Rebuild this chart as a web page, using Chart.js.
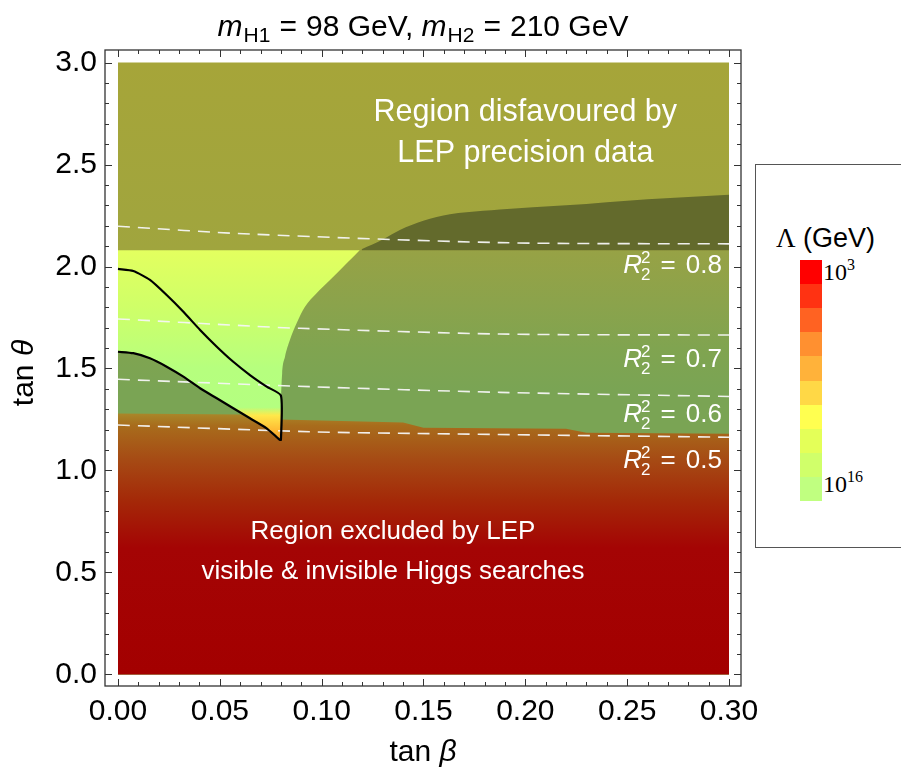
<!DOCTYPE html>
<html>
<head>
<meta charset="utf-8">
<script src="https://cdn.jsdelivr.net/npm/chart.js@4.4.0/dist/chart.umd.min.js"></script>
<style>
  html, body { margin: 0; padding: 0; background: #fff; }
  #wrap { position: relative; width: 901px; height: 774px; overflow: hidden; }
  #plot { position: absolute; left: 0; top: 0; }
  #legend { position: absolute; left: 755px; top: 164px; width: 170px; height: 384px;
            border: 1px solid #555; box-sizing: border-box; background: #fff; }
  #legend .ttl { position: absolute; left: 20px; top: 58px; font: 27px "Liberation Sans", Arial, sans-serif; white-space: nowrap; }
  #legend .ttl .lam { font-family: "Liberation Serif", "Times New Roman", serif; font-size: 27px; }
  #legend .band { position: absolute; left: 44px; width: 22px; }
  #legend .lbl { position: absolute; left: 67px; font: 24px "Liberation Serif", "Times New Roman", serif; white-space: nowrap; }
  #legend .lbl sup { font-size: 16px; vertical-align: 10px; line-height: 0; }
</style>
</head>
<body>
<div id="wrap">
  <canvas id="plot" width="901" height="774"></canvas>
  <div id="legend"></div>
</div>
<script>
// -------- Data --------
const xMajor = [0, 0.05, 0.10, 0.15, 0.20, 0.25, 0.30];
const yMajor = [0, 0.5, 1.0, 1.5, 2.0, 2.5, 3.0];

// boundary of LEP precision region (horizontal)
const precisionEdge = 2.08;

// dark region (upper edge)
const darkX = [0.1196, 0.1302, 0.1384, 0.1499, 0.163, 0.1793, 0.1875, 0.22, 0.26, 0.30];
const darkY = [2.084, 2.133, 2.179, 2.224, 2.256, 2.273, 2.280, 2.300, 2.330, 2.352];

// light (perturbative) region lower edge
const lightX = [0, 0.0075, 0.0157, 0.0239, 0.0321, 0.0403, 0.0485, 0.0566, 0.0648, 0.0730, 0.0796,
                0.0801, 0.0806, 0.0820, 0.0844, 0.0877, 0.0918, 0.0975, 0.1041, 0.1123, 0.1188];
const lightY = [1.582, 1.575, 1.550, 1.509, 1.460, 1.403, 1.354, 1.305, 1.256, 1.207, 1.150,
                1.362, 1.476, 1.558, 1.640, 1.722, 1.803, 1.869, 1.934, 2.016, 2.081];

// LEP Higgs search exclusion edge
const redX = [0, 0.06, 0.08, 0.14, 0.15, 0.22, 0.23, 0.30];
const redY = [1.28, 1.275, 1.25, 1.235, 1.21, 1.205, 1.185, 1.18];

// black contour: upper curve, vertical, lower curve back
const upperX = [0, 0.0075, 0.0157, 0.0239, 0.0321, 0.0403, 0.0485, 0.0566, 0.0648, 0.0730, 0.0800];
const upperY = [1.988, 1.978, 1.934, 1.860, 1.778, 1.689, 1.607, 1.533, 1.468, 1.411, 1.367];
const lowerX = [0.0800, 0.0795, 0.0730, 0.0648, 0.0566, 0.0485, 0.0403, 0.0321, 0.0239, 0.0157, 0.0075, 0];
const lowerY = [1.150, 1.150, 1.207, 1.256, 1.305, 1.354, 1.403, 1.460, 1.509, 1.550, 1.575, 1.582];

// R2^2 contours
const r08X = [0, 0.065, 0.1875, 0.30];
const r08Y = [2.197, 2.159, 2.117, 2.111];
const r07X = [0, 0.065, 0.0893, 0.1875, 0.30];
const r07Y = [1.743, 1.708, 1.697, 1.669, 1.664];
const r06X = [0, 0.094, 0.1875, 0.30];
const r06Y = [1.447, 1.411, 1.383, 1.363];
const r05X = [0, 0.094, 0.143, 0.30];
const r05Y = [1.223, 1.190, 1.182, 1.163];

const rLabels = ['0.8', '0.7', '0.6', '0.5'];
const rLabelY = [1.968, 1.507, 1.239, 1.011];
const rLabelX = 0.2965;

const legendColors = ['#ff0000', '#ff3212', '#ff6222', '#ff9030', '#ffb23a', '#ffd846',
                      '#ffff50', '#e4ff58', '#d0ff6a', '#c0ff80'];

// -------- Helpers --------
const SANS = '"Liberation Sans", Arial, sans-serif';
function pts(xs, ys) { return xs.map((x, i) => ({ x, y: ys[i] })); }

function vGrad(stops) {
  return (c) => {
    const chart = c.chart;
    if (!chart.chartArea) return stops[0][1];
    const ys = chart.scales.y;
    const p0 = ys.getPixelForValue(stops[0][0]);
    const p1 = ys.getPixelForValue(stops[stops.length - 1][0]);
    const g = chart.ctx.createLinearGradient(0, p0, 0, p1);
    stops.forEach(([v, col]) => g.addColorStop((ys.getPixelForValue(v) - p0) / (p1 - p0), col));
    return g;
  };
}

function region(data, fillTo, color, order, smooth) {
  const ds = { data, fill: { value: fillTo }, backgroundColor: color, borderColor: 'transparent',
               borderWidth: 0, pointRadius: 0, tension: 0, order };
  if (smooth) ds.cubicInterpolationMode = 'monotone';
  return ds;
}
function dashed(data) {
  return { data, fill: false, borderColor: 'rgba(245,245,245,0.95)', borderWidth: 1.6,
           borderDash: [12, 8], pointRadius: 0, tension: 0.3, order: 3 };
}

// draws a list of text runs {t, font, dy, keep}
function drawRuns(ctx, runs, x, y, align) {
  let w = 0;
  runs.forEach(r => { ctx.font = r.font; r.w = ctx.measureText(r.t).width; if (!r.keep) w += r.w + (r.gap || 0); });
  let cx = align === 'center' ? x - w / 2 : align === 'right' ? x - w : x;
  ctx.textAlign = 'left';
  ctx.textBaseline = 'alphabetic';
  runs.forEach(r => {
    ctx.font = r.font;
    ctx.fillText(r.t, cx, y + (r.dy || 0));
    if (!r.keep) cx += r.w + (r.gap || 0);
  });
}

// -------- Plugin: frame, inward ticks, annotations --------
const framePlugin = {
  id: 'frame',
  afterDraw(chart) {
    const { ctx, chartArea: a, scales: { x, y } } = chart;
    ctx.save();
    ctx.strokeStyle = '#333';
    ctx.lineWidth = 1.3;
    ctx.strokeRect(a.left, a.top, a.right - a.left, a.bottom - a.top);
    ctx.lineWidth = 1;
    ctx.beginPath();
    for (let i = 0; i <= 30; i++) {
      const px = Math.round(x.getPixelForValue(i / 100)) + 0.5;
      const len = i % 5 === 0 ? 7 : 4;
      ctx.moveTo(px, a.bottom); ctx.lineTo(px, a.bottom - len);
      ctx.moveTo(px, a.top); ctx.lineTo(px, a.top + len);
    }
    for (let i = 0; i <= 30; i++) {
      const py = Math.round(y.getPixelForValue(i / 10)) + 0.5;
      const len = i % 5 === 0 ? 7 : 4;
      ctx.moveTo(a.left, py); ctx.lineTo(a.left + len, py);
      ctx.moveTo(a.right, py); ctx.lineTo(a.right - len, py);
    }
    ctx.stroke();

    // region captions
    ctx.fillStyle = '#fff';
    ctx.textAlign = 'center';
    ctx.font = '30.5px ' + SANS;
    ctx.fillText('Region disfavoured by', x.getPixelForValue(0.2), y.getPixelForValue(2.711));
    ctx.fillText('LEP precision data', x.getPixelForValue(0.2), y.getPixelForValue(2.514));
    ctx.font = '26px ' + SANS;
    ctx.fillText('Region excluded by LEP', x.getPixelForValue(0.135), y.getPixelForValue(0.663));
    ctx.fillText('visible & invisible Higgs searches', x.getPixelForValue(0.135), y.getPixelForValue(0.468));

    // R2^2 labels
    rLabels.forEach((lab, i) => {
      drawRuns(ctx, [
        { t: 'R', font: 'italic 26px ' + SANS, gap: -1 },
        { t: '2', font: '17px ' + SANS, dy: -10, keep: true },
        { t: '2', font: '17px ' + SANS, dy: 7, gap: 10 },
        { t: '=', font: '26px ' + SANS, gap: 10 },
        { t: lab, font: '26px ' + SANS }
      ], x.getPixelForValue(rLabelX), y.getPixelForValue(rLabelY[i]), 'right');
    });

    // title
    ctx.fillStyle = '#000';
    drawRuns(ctx, [
      { t: 'm', font: 'italic 30px ' + SANS, gap: 1 },
      { t: 'H1', font: '21px ' + SANS, dy: 6, gap: 9 },
      { t: '=', font: '30px ' + SANS, gap: 9 },
      { t: '98 GeV, ', font: '30px ' + SANS },
      { t: 'm', font: 'italic 30px ' + SANS, gap: 1 },
      { t: 'H2', font: '21px ' + SANS, dy: 6, gap: 9 },
      { t: '=', font: '30px ' + SANS, gap: 9 },
      { t: '210 GeV', font: '30px ' + SANS }
    ], (a.left + a.right) / 2, 36, 'center');

    // axis labels
    drawRuns(ctx, [
      { t: 'tan ', font: '30px ' + SANS },
      { t: '\u03B2', font: 'italic 30px ' + SANS }
    ], (a.left + a.right) / 2, 761, 'center');
    ctx.save();
    ctx.translate(33, (a.top + a.bottom) / 2 + 5);
    ctx.rotate(-Math.PI / 2);
    drawRuns(ctx, [
      { t: 'tan ', font: '30px ' + SANS },
      { t: '\u03B8', font: 'italic 30px ' + SANS }
    ], 0, 0, 'center');
    ctx.restore();
    ctx.restore();
  }
};

// -------- Chart --------
const chart = new Chart(document.getElementById('plot'), {
  type: 'line',
  data: {
    datasets: [
      region(pts([0, 0.30], [3, 3]), 0,
        vGrad([[3.0, '#a6a539'], [2.08, '#a0a53e']]), 10),
      region(pts([0, 0.30], [precisionEdge, precisionEdge]), 0,
        vGrad([[2.08, '#97a245'], [1.8, '#8aa34c'], [1.6, '#80a450'], [1.4, '#7aa454'], [1.2, '#7aa454']]), 9),
      region(pts(darkX, darkY), precisionEdge, '#636a2c', 8, true),
      region(pts(redX, redY), 0,
        vGrad([[1.29, '#a98c2c'], [1.22, '#a86c1c'], [1.05, '#a64a14'], [0.85, '#a42808'],
               [0.62, '#a40404'], [0, '#a30000']]), 7),
      region(pts(lightX, lightY), precisionEdge,
        vGrad([[2.08, '#e3ff5f'], [1.8, '#cfff68'], [1.5, '#b6ff7e'], [1.31, '#b4ff80'],
               [1.27, '#ffe84a'], [1.2, '#ffbc34'], [1.15, '#f29a2a']]), 6, true),
      dashed(pts(r08X, r08Y)),
      dashed(pts(r07X, r07Y)),
      dashed(pts(r06X, r06Y)),
      dashed(pts(r05X, r05Y)),
      { data: pts(upperX.concat(lowerX), upperY.concat(lowerY)), fill: false, borderColor: '#000',
        borderWidth: 2.2, pointRadius: 0, tension: 0.2, order: 2 }
    ]
  },
  options: {
    responsive: false,
    animation: false,
    events: [],
    layout: { padding: { top: 50, right: 160, left: 0, bottom: 0 } },
    plugins: { legend: { display: false }, tooltip: { enabled: false } },
    scales: {
      x: {
        type: 'linear', min: -0.00638, max: 0.30589,
        grid: { display: false, drawTicks: false },
        border: { display: false },
        afterBuildTicks: s => { s.ticks = xMajor.map(v => ({ value: v })); },
        afterFit: s => { s.height = 88; },
        ticks: { autoSkip: false, maxRotation: 0, padding: 8, color: '#000',
                 font: { family: SANS, size: 30 }, callback: v => v.toFixed(2) }
      },
      y: {
        type: 'linear', min: -0.0564, max: 3.0613,
        grid: { display: false, drawTicks: false },
        border: { display: false },
        afterBuildTicks: s => { s.ticks = yMajor.map(v => ({ value: v })); },
        afterFit: s => { s.width = 105; },
        ticks: { padding: 8, color: '#000',
                 font: { family: SANS, size: 30 }, callback: v => v.toFixed(1) }
      }
    }
  },
  plugins: [framePlugin]
});

// -------- Legend --------
const legend = document.getElementById('legend');
legend.innerHTML = '<div class="ttl"><span class="lam">\u039B</span> (GeV)</div>';
legendColors.forEach((c, i) => {
  const b = document.createElement('div');
  b.className = 'band';
  b.style.top = (95 + i * 24.1) + 'px';
  b.style.height = '24.6px';
  b.style.background = c;
  legend.appendChild(b);
});
legend.insertAdjacentHTML('beforeend',
  '<div class="lbl" style="top:94px">10<sup>3</sup></div>' +
  '<div class="lbl" style="top:306px">10<sup>16</sup></div>');
</script>
</body>
</html>
